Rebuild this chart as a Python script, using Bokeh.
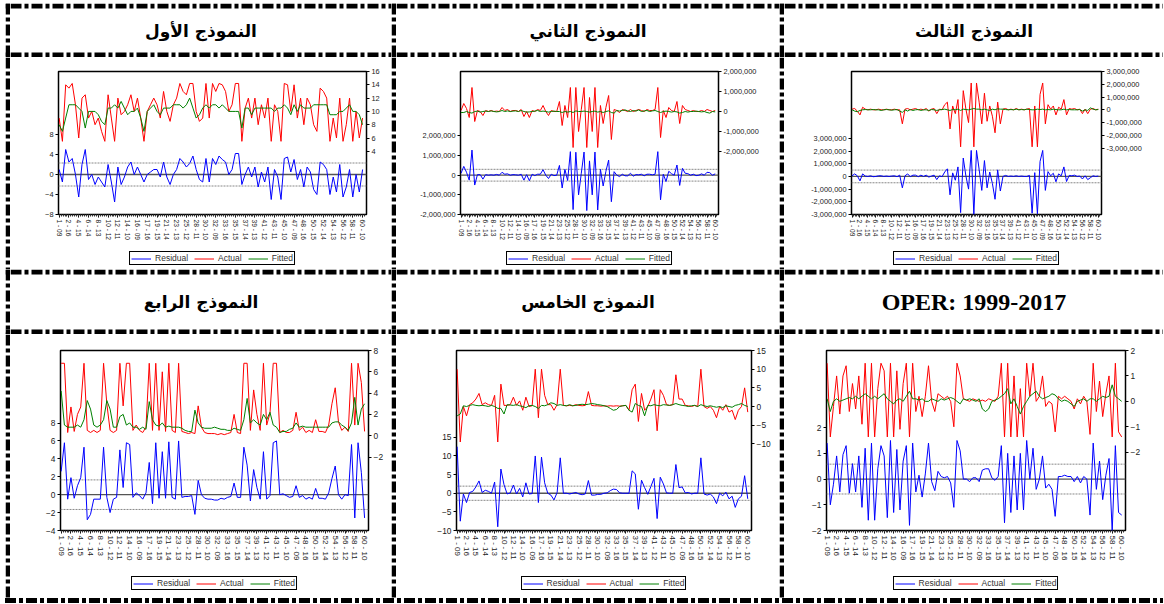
import numpy as np
from bokeh.plotting import figure
from bokeh.models import (Range1d, LinearAxis, FixedTicker, Legend, LegendItem, Span,
                          NumeralTickFormatter, Spacer, Div)
from bokeh.layouts import column, row
from bokeh.embed import file_html
from bokeh.resources import INLINE
from bokeh.core.properties import value

# ---------------- data ----------------
titles = ["النموذج الأول", "النموذج الثاني", "النموذج الثالث",
          "النموذج الرابع", "النموذج الخامس", "OPER: 1999-2017"]

xlabels = ["1 - 09", "2 - 16", "4 - 15", "6 - 14", "8 - 13", "10 - 12", "12 - 11", "14 - 10",
           "16 - 09", "17 - 16", "19 - 15", "21 - 14", "23 - 13", "25 - 12", "28 - 11", "30 - 10",
           "32 - 09", "33 - 16", "35 - 15", "37 - 14", "39 - 13", "41 - 12", "43 - 11", "45 - 10",
           "47 - 09", "48 - 16", "50 - 15", "52 - 14", "54 - 13", "56 - 12", "58 - 11", "60 - 10"]
LABEL_EVERY = 15      # observations between x labels
STEP = 5              # observations between stored readings

actual_1 = [9, 5.5, 14, 13.5, 14.2, 11, 6, 12, 12.5, 9,
            10, 8, 9, 7, 5.5, 12.5, 9, 5.5, 12, 9.5,
            10, 11, 12.5, 10, 12, 9, 5.5, 10, 11, 12,
            11, 9, 13, 10, 8.5, 11, 12, 14.2, 13, 12.5,
            14.2, 14.2, 10, 8.5, 9, 14.2, 9, 14.2, 13, 14.2,
            14, 13, 10, 11, 14.2, 14.2, 5.5, 10.5, 12, 9,
            12, 8, 11, 9, 12, 5.5, 11, 10, 5.5, 14.2,
            14, 10, 14, 9, 12, 8, 12, 11, 8, 7,
            13.5, 13, 12, 5.5, 9, 6, 12, 5.5, 8, 12,
            5.5, 10, 6, 9]
fitted_1 = [8, 7, 9, 11, 11, 11, 10.5, 10, 7.5, 10,
            10, 10, 9.5, 8.5, 8, 10.5, 10.5, 11, 10.5, 11.5,
            10.5, 9.5, 10, 10, 10.5, 9, 7, 10, 10.5, 11,
            10, 9.5, 10.5, 10.5, 10.5, 11, 11, 11, 10.5, 11,
            12, 10.5, 9, 9.5, 10.5, 11, 10.5, 11, 11, 10.5,
            11, 10.5, 10, 10, 10, 10, 7.5, 10.5, 10.5, 9.5,
            10.5, 10.5, 10.5, 10.5, 10.5, 10.5, 10, 10.5, 10.5, 11,
            10.5, 9.5, 11, 10, 11, 10.5, 10.5, 10.5, 11, 11,
            11, 11, 11, 9.5, 9.5, 9.5, 10, 10, 10.5, 11,
            10, 10, 9.5, 8]

actual_2 = [0.05, 0.4, 0.15, -0.3, 1.2, -0.5, 0.05, 0.0, -0.2, 0.05,
            0.0, 0.05, 0.0, 0.02, 0.0, 0.2, 0.05, 0.1, 0.0, 0.05,
            0.05, 0.0, 0.1, -0.25, 0.0, -0.3, 0.05, 0.0, 0.1, 0.05,
            0.3, 0.0, -0.2, 0.05, 0.0, 0.0, 0.5, -0.7, 0.3, -0.3,
            1.2, -1.8, 1.2, -1.0, 0.1, 1.2, -1.8, 0.7, -1.0, 1.2,
            -1.8, 0.3, -0.6, 0.2, 0.8, -1.4, 0.1, 0.05, -0.05, 0.1,
            0.05, 0.0, 0.1, 0.0, 0.05, 0.1, 0.05, 0.0, 0.1, 0.05,
            0.05, 0.1, 1.2, -1.3, 0.05, -0.3, 0.2, 0.05, 0.0, 0.5,
            -0.6, 0.3, 0.1, 0.05, 0.0, 0.05, 0.0, 0.0, 0.05, 0.0,
            0.1, 0.05, 0.0, 0.05]
fitted_2 = [-0.05, -0.05, 0.0, -0.05, -0.08, 0.0, 0.02, -0.03, 0.0, 0.02,
            0.0, 0.03, 0.0, -0.02, 0.0, 0.05, 0.0, 0.03, 0.0, 0.02,
            0.03, 0.0, 0.05, 0.0, -0.03, -0.02, 0.0, 0.02, 0.05, 0.0,
            0.02, 0.0, -0.03, 0.0, 0.02, 0.0, 0.0, -0.05, 0.0, -0.03,
            0.0, -0.05, 0.03, 0.0, 0.0, 0.02, 0.0, -0.03, 0.0, 0.02,
            -0.03, 0.0, -0.05, 0.0, 0.03, -0.05, -0.08, 0.05, 0.02, 0.05,
            0.08, 0.03, 0.0, 0.05, 0.02, 0.08, 0.0, 0.03, 0.05, 0.0,
            0.03, 0.05, 0.0, -0.05, 0.0, 0.02, 0.0, -0.03, 0.0, -0.02,
            -0.08, -0.05, 0.0, -0.03, 0.0, 0.0, 0.02, 0.0, -0.02, 0.0,
            -0.05, -0.08, 0.0, -0.02]

actual_3 = [0.05, 0.1, -0.1, -0.4, 0.2, 0.05, 0.0, 0.05, 0.0, 0.0,
            0.05, 0.0, 0.0, 0.05, 0.0, 0.0, 0.05, 0.0, 0.0, -1.1,
            0.05, 0.1, 0.0, 0.05, 0.1, 0.0, 0.05, 0.0, 0.1, -0.1,
            0.05, 0.1, -0.3, 0.05, 0.0, 0.4, 0.6, -1.5, 0.3, -0.3,
            0.8, -2.9, 1.5, 0.05, -1.0, 2.1, -2.9, 2.1, 0.6, -1.1,
            1.3, -0.9, 0.3, -0.5, -1.8, 0.6, -1.1, 0.05, 0.1, 0.0,
            0.05, 0.0, 0.1, 0.0, 0.05, 0.0, 0.05, 0.1, -2.9, 0.3,
            -2.9, 1.2, 2.1, -1.1, 0.4, 0.05, 0.3, -0.4, 0.2, 0.05,
            0.8, -0.4, 0.1, 0.05, 0.1, 0.0, 0.05, -0.3, 0.05, -0.3,
            0.05, 0.1, 0.0, 0.05]
fitted_3 = [0.0, -0.1, -0.15, -0.05, 0.0, 0.02, 0.0, 0.0, 0.02, 0.0,
            0.0, -0.05, 0.0, 0.02, 0.0, -0.03, 0.0, 0.02, -0.1, -0.2,
            0.0, -0.1, 0.02, -0.05, 0.0, 0.02, -0.05, 0.0, 0.0, -0.05,
            0.02, 0.0, -0.05, 0.0, 0.02, 0.05, 0.0, -0.05, 0.02, 0.0,
            0.05, -0.05, 0.05, 0.02, 0.0, 0.05, 0.1, 0.05, 0.05, 0.0,
            0.05, 0.0, -0.05, 0.05, 0.0, 0.08, 0.05, 0.05, 0.02, 0.0,
            0.02, 0.0, 0.05, 0.0, 0.02, 0.0, 0.05, 0.02, 0.0, 0.0,
            0.05, 0.02, 0.05, 0.0, 0.02, 0.0, 0.05, 0.02, 0.0, 0.0,
            0.05, 0.0, 0.02, 0.0, 0.0, 0.0, 0.02, -0.1, 0.0, -0.05,
            0.15, 0.05, 0.0, 0.02]

actual_4 = [6.8, 6.8, 0.3, 2.7, 0.4, 2.0, 2.7, 6.8, 0.5, 0.3,
            0.5, 0.3, 0.5, 6.8, 3.0, 0.5, 0.3, 0.5, 6.8, 2.8,
            6.8, 6.8, 0.5, 1.0, 0.5, 0.3, 0.8, 6.8, 0.5, 6.8,
            0.5, 6.0, 0.4, 6.8, 0.5, 0.3, 6.8, 0.4, 0.3, 0.2,
            0.3, 0.2, 2.8, 0.8, 0.3, 0.2, 0.2, 0.2, 0.1, 0.2,
            0.1, 0.2, 0.3, 2.0, 0.3, 0.2, 6.8, 6.8, 0.5, 4.3,
            2.0, 0.5, 6.8, 1.0, 2.1, 6.8, 6.8, 0.3, 0.5, 0.3,
            0.3, 0.5, 2.2, 0.5, 0.8, 0.3, 0.5, 0.3, 1.5, 0.4,
            0.4, 0.3, 1.0, 3.0, 4.5, 1.3, 0.5, 0.8, 0.4, 6.8,
            1.0, 6.8, 5.0, 0.4]
fitted_4 = [4.2, 1.0, 0.8, 0.8, 0.8, 1.0, 0.8, 1.5, 3.3, 2.5,
            1.0, 0.8, 1.0, 1.5, 3.3, 2.5, 0.8, 0.8, 1.8, 2.0,
            1.0, 1.2, 0.8, 0.8, 0.6, 0.8, 0.6, 3.2, 1.5, 1.0,
            0.9, 1.2, 0.8, 0.9, 0.8, 0.8, 0.8, 0.7, 0.5, 0.4,
            0.4, 2.4, 1.2, 0.8, 0.7, 0.7, 0.7, 0.8, 0.7, 0.6,
            0.6, 0.5, 0.5, 0.7, 0.6, 0.5, 1.5, 3.5, 1.2, 1.5,
            1.2, 1.0, 2.0, 1.5, 2.2, 1.0, 0.8, 0.3, 0.4, 0.4,
            0.6, 0.7, 1.2, 0.8, 0.9, 0.8, 0.8, 0.8, 0.8, 0.8,
            0.8, 0.8, 0.8, 1.2, 1.3, 1.3, 1.0, 0.8, 0.5, 1.2,
            3.6, 1.0, 2.5, 3.0]

actual_5 = [10, -9.5, 0.0, -2.5, 0.5, 1.0, 2.0, 3.5, 0.5, 1.0,
            0.5, 0.3, 3.0, -9.5, 6.0, 0.3, 0.3, 0.5, 2.5, 0.3,
            1.5, -1.0, 2.5, 0.0, 0.2, 10, -3.0, 10, 3.0, 0.5,
            0.5, -1.0, 0.5, 10, 0.3, 0.2, 0.3, 0.2, 0.5, 0.3,
            0.2, 0.3, 4.0, 0.3, 0.2, 0.2, 0.1, 0.2, 0.1, 0.2,
            0.1, 0.2, 0.1, 0.2, 0.3, -1.0, 4.5, 6.0, -4.0, 3.5,
            -1.0, 0.0, 2.0, 4.5, -6.5, 4.5, 3.0, 0.5, 0.3, 0.5,
            8.5, 2.0, 2.0, 0.3, 0.2, 0.0, 0.3, 0.0, 10, 0.0,
            -0.5, 0.0, -1.0, -3.0, 0.0, -1.0, 0.5, -1.5, -1.0, -3.5,
            -1.0, 0.0, 5.0, -1.5]
fitted_5 = [-2.5, -2.0, 0.2, 0.0, 0.3, 0.5, 0.3, 0.2, 0.3, 0.2,
            0.0, 0.3, 0.0, -0.5, -0.5, -2.0, 0.5, 0.4, 0.3, 0.5,
            0.2, 0.0, -0.3, 0.2, 0.3, 0.0, -0.5, 0.3, 0.2, 0.5,
            1.0, 0.8, 0.3, 0.5, 0.3, 0.2, 0.5, 0.2, 0.3, 0.5,
            0.6, 0.5, 0.6, 0.8, 0.7, 0.5, 0.4, 0.2, 0.0, -0.5,
            -1.0, -0.8, 0.0, 0.2, 0.3, -1.0, -1.5, 0.8, 0.3, 0.0,
            -2.5, 0.3, 0.2, 0.5, 0.3, 0.2, 0.5, 0.4, 0.3, 0.5,
            0.8, 0.5, 0.3, 0.2, 0.0, 0.2, 0.3, 0.0, 0.5, 0.2,
            0.0, 0.2, 0.0, -0.2, 0.0, -0.3, 0.2, 0.0, -0.2, 0.3,
            0.5, 0.8, 0.3, 0.0]

actual_6 = [1.5, -1.4, -0.2, 1.0, -0.5, 1.0, 1.4, -0.4, 0.7, -0.3,
            1.0, -0.9, 1.5, -1.4, 1.5, -1.4, 0.5, 1.5, 1.2, -1.4,
            1.5, -1.4, 1.2, -1.1, 0.7, 1.5, -1.4, 1.5, -0.4, 0.2,
            -0.6, 0.2, 1.4, 0.0, -0.4, 0.3, 0.2, 0.1, 0.2, 0.0,
            -1.0, 1.5, 1.0, 0.1, 0.05, 0.0, 0.1, 0.05, 0.0, 0.05,
            0.0, 0.1, 0.05, 0.0, 0.2, 1.5, -1.4, 1.5, -1.4, 1.0,
            -1.4, 0.5, -1.4, 1.5, 0.2, 1.5, 0.0, 0.2, 1.0, -0.2,
            0.0, -0.1, -1.2, 0.2, 0.1, 0.2, 0.1, 0.0, -0.3, 0.1,
            -0.1, 0.2, 0.0, -1.3, 1.5, -0.4, 0.8, -0.6, 0.3, 1.0,
            -1.4, 1.5, -1.2, -1.4]
fitted_6 = [0.1, -0.4, 0.0, 0.1, 0.0, 0.05, 0.1, 0.15, 0.1, 0.2,
            0.1, 0.2, 0.3, 0.2, 0.1, 0.2, 0.1, 0.2, 0.3, 0.1,
            0.0, -0.1, 0.05, 0.1, 0.0, 0.2, 0.4, 0.1, 0.1, 0.05,
            0.1, 0.0, 0.0, 0.1, 0.05, 0.0, 0.1, 0.05, 0.1, 0.15,
            0.1, 0.0, -0.1, 0.1, 0.05, 0.1, 0.05, 0.0, 0.1, -0.3,
            -0.4, -0.3, 0.0, 0.05, 0.1, 0.2, 0.3, 0.5, -0.1, 0.1,
            -0.2, -0.5, -0.2, 0.0, 0.2, 0.3, 0.4, 0.2, 0.1, 0.15,
            0.2, 0.3, 0.25, 0.1, 0.0, 0.05, 0.0, -0.1, -0.2, 0.0,
            0.05, 0.1, 0.0, 0.1, 0.1, 0.0, 0.1, 0.2, 0.15, 0.2,
            0.65, 0.2, 0.1, 0.0]

se_vals = [2.3, 0.3, 0.5, 1.65, 1.9, 0.58]
left_ticks = [[-8, -4, 0, 4, 8], [-2, -1, 0, 1, 2], [-3, -2, -1, 0, 1, 2, 3],
              [-4, -2, 0, 2, 4, 6, 8], [-10, -5, 0, 5, 10, 15], [-2, -1, 0, 1, 2]]
right_ticks = [[4, 6, 8, 10, 12, 14, 16], [-2, -1, 0, 1, 2], [-3, -2, -1, 0, 1, 2, 3],
               [-2, 0, 2, 4, 6, 8], [-10, -5, 0, 5, 10, 15], [-2, -1, 0, 1, 2]]
units = [1, 1e6, 1e6, 1, 1, 1]

# ---------------- layout / style ----------------
X_START, X_END = -1, 471
T = 5                      # table line thickness
LEFT_PAD, TOP_PAD = 5, 3
COLW = [381, 383, 379]
HEAD_H = [44, 55]          # header text band heights (lines added above and below)
DASH = "11 3 4 3"
left_ranges = [(-8, 20.6), (-2, 5.28), (-3, 8.27), (-4, 16.1), (-10, 38.3), (-2, 5.0)]
right_ranges = [(-5.5, 16), (-5.15, 2), (-8.2, 3), (-8.9, 8), (-33.2, 15), (-5.08, 2)]
# left border, frame width, top border, frame height, bottom border
geoms = [(48, 308, 14, 143, 33), (64, 258, 14, 143, 33), (67, 250, 14, 143, 33),
         (50, 308, 16, 180, 36), (60, 295, 16, 180, 36), (42, 299, 16, 180, 36)]
# legend band: height, gap above legend box
leg_band = [(22, 4), (32, 10)]
FONT = "Liberation Sans"


def blank_fig(w, h, ml=0, mr=0):
    return figure(width=w, height=h, output_backend="svg", toolbar_location=None, title_location=None,
                  x_range=Range1d(0, w - ml - mr), y_range=Range1d(0, h), x_axis_type=None, y_axis_type=None,
                  min_border=0, min_border_left=ml, min_border_right=mr, min_border_top=0,
                  min_border_bottom=0, outline_line_color=None, border_fill_color="white",
                  background_fill_color="white")


def hrule(p, y):
    p.add_layout(Span(location=y, dimension="width", line_color="black", line_width=T, line_dash=DASH))


def vrule(p, x):
    p.add_layout(Span(location=x, dimension="height", line_color="black", line_width=T, line_dash=DASH))


def style_axis(ax, fs):
    ax.axis_line_color = None
    ax.major_tick_in = 0
    ax.major_tick_out = 3
    ax.major_tick_line_color = "black"
    ax.minor_tick_line_color = None
    ax.major_label_text_font = FONT
    ax.major_label_text_font_size = fs
    ax.major_label_text_color = "#222222"
    ax.major_label_standoff = 2


def chart(k, w, band, ytfs, xtfs):
    actual = [actual_1, actual_2, actual_3, actual_4, actual_5, actual_6][k]
    fitted = [fitted_1, fitted_2, fitted_3, fitted_4, fitted_5, fitted_6][k]
    sc = units[k]
    a = np.asarray(actual, float) * sc
    f = np.asarray(fitted, float) * sc
    n = min(len(a), len(f))
    a, f = a[:n], f[:n]
    res = a - f
    x = np.arange(n) * STEP
    ml, fw, mt, fh, mb = geoms[k]
    mr = w - ml - fw
    lr, rr_ = left_ranges[k], right_ranges[k]
    p = figure(frame_width=fw, frame_height=fh, output_backend="svg", toolbar_location=None,
               title_location=None,
               x_range=Range1d(X_START, X_END), y_range=Range1d(lr[0] * sc, lr[1] * sc),
               min_border_left=ml, min_border_right=mr, min_border_top=mt, min_border_bottom=mb,
               background_fill_color="white", border_fill_color="white")
    p.outline_line_color = "black"
    p.outline_line_width = 1.5
    p.outline_line_alpha = 1
    p.grid.visible = False
    p.extra_y_ranges = {"r": Range1d(rr_[0] * sc, rr_[1] * sc)}

    se = se_vals[k] * sc
    p.add_layout(Span(location=0, dimension="width", line_color="#555555", line_width=1.3, level="underlay"))
    for s in (se, -se):
        p.add_layout(Span(location=s, dimension="width", line_color="#888888", line_width=1,
                          line_dash="2 1", level="underlay"))

    p.line(x, res, line_color="#0000FF", line_width=1)
    p.line(x, a, line_color="#FF0000", line_width=1, y_range_name="r")
    p.line(x, f, line_color="#008000", line_width=1, y_range_name="r")

    yl = p.yaxis[0]
    yl.ticker = FixedTicker(ticks=[t * sc for t in left_ticks[k]])
    style_axis(yl, ytfs)
    yr = LinearAxis(y_range_name="r", ticker=FixedTicker(ticks=[t * sc for t in right_ticks[k]]))
    style_axis(yr, ytfs)
    if sc != 1:
        yl.formatter = NumeralTickFormatter(format="0,0")
        yr.formatter = NumeralTickFormatter(format="0,0")
    p.add_layout(yr, "right")

    xt = [i * LABEL_EVERY for i in range(len(xlabels))]
    xa = p.xaxis[0]
    xa.ticker = FixedTicker(ticks=xt, minor_ticks=list(range(0, X_END, 3)))
    xa.major_label_overrides = {t: lab for t, lab in zip(xt, xlabels)}
    xa.major_label_orientation = "vertical"
    style_axis(xa, xtfs)
    xa.major_tick_out = 3
    xa.minor_tick_line_color = "#333333"
    xa.minor_tick_in = 0
    xa.minor_tick_out = 2

    # legend band below the chart, its frame lined up with the chart frame
    lh, gap = band
    lg = blank_fig(w, lh, ml, mr)
    g1 = lg.line(x=[0], y=[0], line_color="#0000FF", line_width=1)
    g2 = lg.line(x=[0], y=[0], line_color="#FF0000", line_width=1)
    g3 = lg.line(x=[0], y=[0], line_color="#008000", line_width=1)
    leg = Legend(items=[LegendItem(label="Residual", renderers=[g1]),
                        LegendItem(label="Actual", renderers=[g2]),
                        LegendItem(label="Fitted", renderers=[g3])],
                 orientation="horizontal", location="top_center",
                 border_line_color="black", border_line_width=1, border_line_alpha=1,
                 label_text_font=FONT, label_text_font_size="8.5px", label_text_color="#333333",
                 glyph_width=20, glyph_height=9, label_height=9, label_standoff=4,
                 spacing=6, padding=1, margin=gap, background_fill_alpha=1)
    lg.add_layout(leg, "center")
    return column(p, lg, spacing=0)


def header(text, w, hb, font, fs):
    h = hb + 2 * T
    p = blank_fig(w, h)
    p.text(x=[w / 2], y=[h / 2], text=[text], text_align="center", text_baseline="middle",
           text_font=value(font), text_font_style="bold", text_font_size=fs, text_color="black")
    hrule(p, h - T / 2)
    hrule(p, T / 2)
    return p


def vstrip(h, top_line=False, bottom_line=False):
    p = blank_fig(T, h)
    vrule(p, T / 2)
    if top_line:
        hrule(p, h - T / 2)
    if bottom_line:
        hrule(p, T / 2)
    return p


def header_row(idx, hb):
    h = hb + 2 * T
    kids = [Spacer(width=LEFT_PAD, height=h)]
    for c in range(3):
        kids.append(vstrip(h, True, True))
        t = titles[idx + c]
        if t.startswith("OPER"):
            kids.append(header(t, COLW[c], hb, "Liberation Serif", "24px"))
        else:
            kids.append(header(t, COLW[c], hb, "DejaVu Sans", "17px"))
    return row(*kids, spacing=0)


def chart_row(idx, r, ytfs, xtfs):
    band = leg_band[r]
    h = geoms[idx][2] + geoms[idx][3] + geoms[idx][4] + band[0]
    kids = [Spacer(width=LEFT_PAD, height=h)]
    for c in range(3):
        kids.append(vstrip(h))
        kids.append(chart(idx + c, COLW[c], band, ytfs, xtfs))
    return row(*kids, spacing=0)


TABLE_W = sum(COLW) + 3 * T
TOTAL_W = LEFT_PAD + TABLE_W
dashdot_css = ("repeating-linear-gradient(to right, #000000 0px, #000000 11px, transparent 11px, "
               "transparent 14px, #000000 14px, #000000 18px, transparent 18px, transparent 21px)")
bottom_rule = row(Spacer(width=LEFT_PAD, height=T),
                  Div(text="", width=TABLE_W, height=T, margin=(0, 0, 0, 0),
                      styles={"background-image": dashdot_css}),
                  spacing=0)

layout = column(Spacer(width=TOTAL_W, height=TOP_PAD),
                header_row(0, HEAD_H[0]),
                chart_row(0, 0, "7.4px", "6.6px"),
                header_row(3, HEAD_H[1]),
                chart_row(3, 1, "8.4px", "8px"),
                bottom_rule,
                spacing=0)

open("out.html", "w", encoding="utf-8").write(file_html(layout, INLINE))
